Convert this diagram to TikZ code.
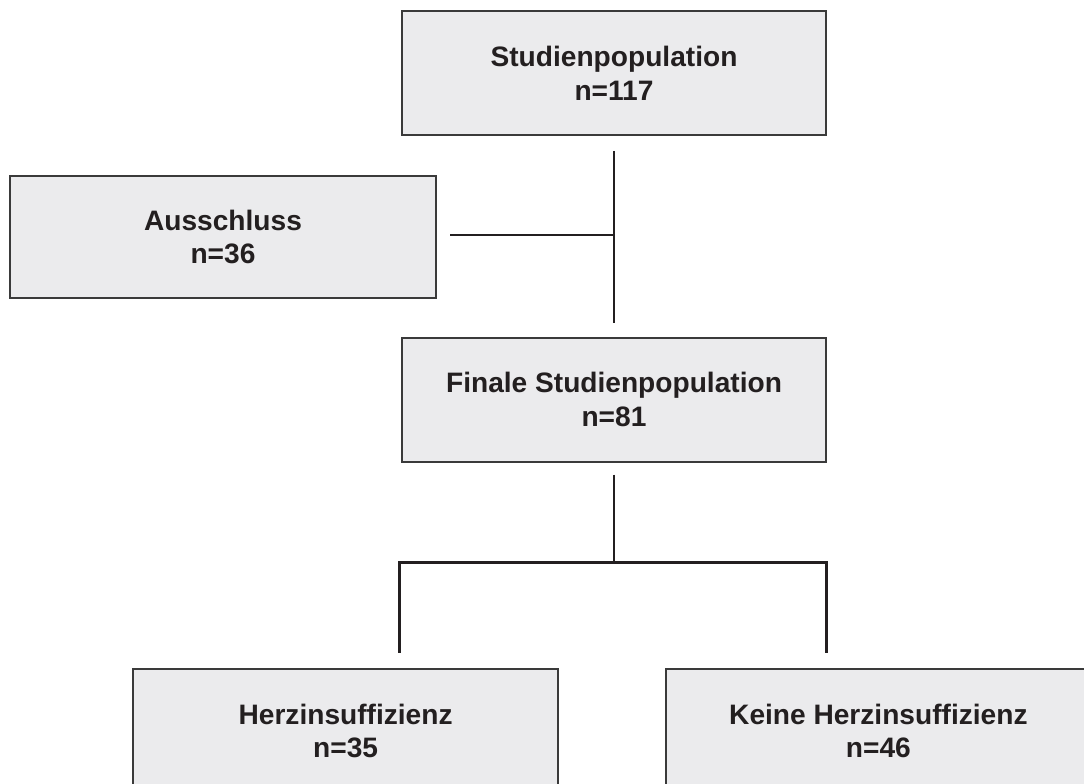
\documentclass[tikz,border=0pt]{standalone}
\usepackage{fontspec}
\setmainfont{Liberation Sans}
\definecolor{boxfill}{HTML}{EBEBED}
\definecolor{boxline}{HTML}{3A3A3A}
\definecolor{ink}{HTML}{231F20}
\begin{document}
\begin{tikzpicture}[
  stage/.style={draw=boxline, line width=1.3pt, fill=boxfill, text=ink,
    minimum width=10.6cm, minimum height=3.1cm, align=center,
    font=\fontsize{20}{24}\selectfont\bfseries},
  link/.style={draw=ink, line width=2.1pt}]
\useasboundingbox (0,0) rectangle (27.1,-19.6);
\node[stage] (stud) at (15.35,-1.825) {Studienpopulation\\n=117};
\node[stage, minimum width=10.65cm, minimum height=3.05cm] (aus) at (5.575,-5.925) {Ausschluss\\n=36};
\node[stage] (fin) at (15.35,-9.99) {Finale Studienpopulation\\n=81};
\node[stage, minimum width=10.62cm] (herz) at (8.64,-18.275) {Herzinsuffizienz\\n=35};
\node[stage, minimum width=10.62cm] (keine) at (21.96,-18.275) {Keine Herzinsuffizienz\\n=46};
\coordinate (top) at ([yshift=-0.375cm]stud.south);
\coordinate (bot) at ([yshift=0.33cm]fin.north);
\coordinate (ausend) at ([xshift=0.33cm,yshift=0.05cm]aus.east);
\coordinate (join) at (top |- ausend);
\coordinate (fork) at ([yshift=-0.3cm]fin.south);
\coordinate (split) at ([yshift=-2.5cm]fin.south);
\coordinate (left) at ([xshift=-0.05cm]fin.south west |- split);
\coordinate (right) at (fin.south east |- split);
\draw[link] (top) -- (bot);
\draw[link] (ausend) -- (join);
\draw[link] (fork) -- (split);
\draw[link] ([yshift=-2.25cm]left) -- (left) -- (right) -- ([yshift=-2.27cm]right);
\end{tikzpicture}
\end{document}
